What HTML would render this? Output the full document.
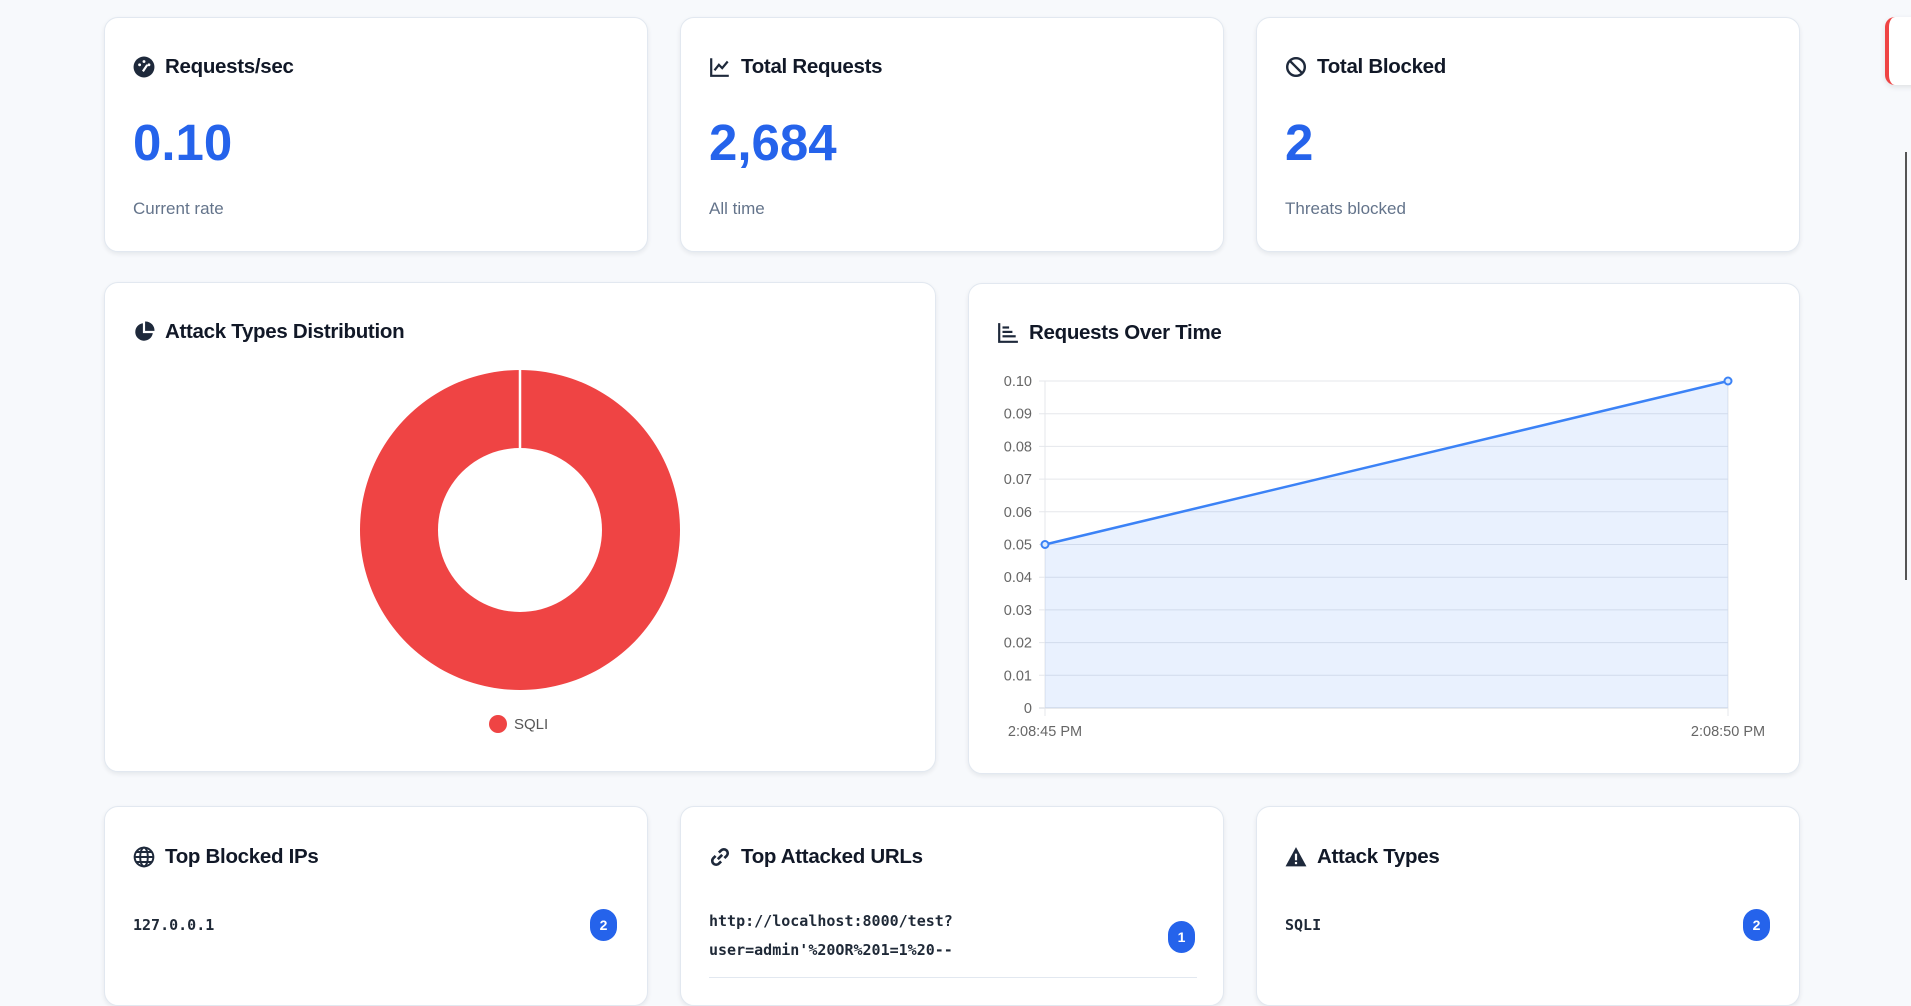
<!DOCTYPE html>
<html><head><meta charset="utf-8"><style>
*{box-sizing:border-box;margin:0;padding:0}
body{width:1911px;height:982px;background:#f7f9fc;font-family:"Liberation Sans","DejaVu Sans",sans-serif;position:relative;overflow:hidden;color:#1e293b}
.card{position:absolute;background:#fff;border:1px solid #e2e8f0;border-radius:14px;box-shadow:0 2px 5px rgba(15,23,42,0.08)}
.title{position:absolute;font-size:20.5px;font-weight:bold;color:#111827;display:flex;align-items:center;gap:10px;letter-spacing:-0.3px}
.title svg{width:22px;height:22px}
.big{position:absolute;font-size:51px;font-weight:bold;color:#2563eb}
.sub{position:absolute;font-size:17px;color:#64748b}
.mono{position:absolute;font-family:"DejaVu Sans Mono","Liberation Mono",monospace;font-weight:bold;font-size:15px;color:#1f2937;line-height:29px}
.badge{position:absolute;width:27px;height:32px;border-radius:14px;background:#2563eb;color:#fff;font-size:14px;font-weight:bold;display:flex;align-items:center;justify-content:center}
</style></head><body>

<div class="card" style="left:104px;top:17px;width:544px;height:235px">
 <div class="title" style="left:28px;top:37px"><svg viewBox="0 0 20 20"><circle cx="10" cy="10" r="9.5" fill="#1e293b"/><circle cx="6" cy="8" r="1.3" fill="#fff"/><circle cx="10" cy="5" r="1.3" fill="#fff"/><circle cx="14.5" cy="8" r="1.3" fill="#fff"/><path d="M9 14 L13 8" stroke="#fff" stroke-width="2"/></svg>Requests/sec</div>
 <div class="big" style="left:28px;top:95px">0.10</div>
 <div class="sub" style="left:28px;top:181px">Current rate</div>
</div>
<div class="card" style="left:680px;top:17px;width:544px;height:235px">
 <div class="title" style="left:28px;top:37px"><svg viewBox="0 0 20 20" fill="none" stroke="#1e293b" stroke-width="2"><path d="M2 2 V18 H18"/><path d="M5 13 L9 8 L12 11 L17 5"/></svg>Total Requests</div>
 <div class="big" style="left:28px;top:95px">2,684</div>
 <div class="sub" style="left:28px;top:181px">All time</div>
</div>
<div class="card" style="left:1256px;top:17px;width:544px;height:235px">
 <div class="title" style="left:28px;top:37px"><svg viewBox="0 0 20 20" fill="none" stroke="#1e293b" stroke-width="2.2"><circle cx="10" cy="10" r="8"/><path d="M4.5 4.5 L15.5 15.5"/></svg>Total Blocked</div>
 <div class="big" style="left:28px;top:95px">2</div>
 <div class="sub" style="left:28px;top:181px">Threats blocked</div>
</div>

<div class="card" style="left:104px;top:282px;width:832px;height:490px">
 <div class="title" style="left:28px;top:37px"><svg viewBox="0 0 20 20"><path d="M9 2 A8 8 0 1 0 18 11 H9 Z" fill="#1e293b"/><path d="M11 0.5 A8 8 0 0 1 19.5 9 H11 Z" fill="#1e293b"/></svg>Attack Types Distribution</div>
 <svg id="donut" style="position:absolute;left:0;top:0" width="832" height="490"></svg>
</div>

<div class="card" style="left:968px;top:283px;width:832px;height:491px">
 <div class="title" style="left:28px;top:37px"><svg viewBox="0 0 20 20" fill="#1e293b"><path d="M1 1 H3 V17 H19 V19 H1 Z"/><rect x="5" y="4" width="6" height="2"/><rect x="5" y="8" width="9" height="2"/><rect x="5" y="12" width="12" height="2"/></svg>Requests Over Time</div>
</div>
<svg id="line" style="position:absolute;left:0;top:0" width="1911" height="982"></svg>

<div class="card" style="left:104px;top:806px;width:544px;height:200px">
 <div class="title" style="left:28px;top:38px"><svg viewBox="0 0 20 20" fill="none" stroke="#1e293b" stroke-width="1.8"><circle cx="10" cy="10" r="8.5"/><ellipse cx="10" cy="10" rx="3.5" ry="8.5"/><path d="M1.5 10 H18.5 M3 5.5 H17 M3 14.5 H17"/></svg>Top Blocked IPs</div>
 <div class="mono" style="left:28px;top:104px">127.0.0.1</div>
 <div class="badge" style="left:485px;top:102px">2</div>
</div>
<div class="card" style="left:680px;top:806px;width:544px;height:200px">
 <div class="title" style="left:28px;top:38px"><svg viewBox="0 0 20 20" fill="none" stroke="#1e293b" stroke-width="2.4"><path d="M8 12 L12 8"/><path d="M9 6 L11 4 A3.5 3.5 0 0 1 16 9 L14 11"/><path d="M11 14 L9 16 A3.5 3.5 0 0 1 4 11 L6 9"/></svg>Top Attacked URLs</div>
 <div class="mono" style="left:28px;top:100px">http://localhost:8000/test?<br>user=admin'%20OR%201=1%20--</div>
 <div class="badge" style="left:487px;top:114px">1</div>
 <div style="position:absolute;left:28px;top:170px;width:488px;height:1px;background:#e2e8f0"></div>
</div>
<div class="card" style="left:1256px;top:806px;width:544px;height:200px">
 <div class="title" style="left:28px;top:38px"><svg viewBox="0 0 20 20"><path d="M10 1 L19.5 18.5 H0.5 Z" fill="#1e293b"/><rect x="9" y="7" width="2" height="6" fill="#fff"/><rect x="9" y="14.5" width="2" height="2" fill="#fff"/></svg>Attack Types</div>
 <div class="mono" style="left:28px;top:104px">SQLI</div>
 <div class="badge" style="left:486px;top:102px">2</div>
</div>

<div style="position:absolute;left:1885px;top:17px;width:40px;height:68px;background:#fff;border-left:4px solid #ef4444;border-radius:10px;box-shadow:0 2px 6px rgba(0,0,0,0.1)"></div>
<div style="position:absolute;left:1905px;top:152px;width:2px;height:428px;background:#555"></div>

<script>
// Donut data
const donutLabels = ["SQLI"];
const donutValues = [2];
const donutColors = ["#ef4444"];
(function(){
 const s=document.getElementById('donut'),NS='http://www.w3.org/2000/svg';
 const cx=415,cy=247,R=160,r=82;
 const total=donutValues.reduce((a,b)=>a+b,0);
 let a0=-Math.PI/2;
 donutValues.forEach((v,i)=>{
  const frac=v/total;
  let el;
  if(frac>=0.9999){
   el=document.createElementNS(NS,'path');
   el.setAttribute('d',`M${cx},${cy-R}A${R},${R} 0 1 1 ${cx-0.01},${cy-R}L${cx-0.01},${cy-r}A${r},${r} 0 1 0 ${cx},${cy-r}Z`);
  } else {
   const a1=a0+frac*2*Math.PI,lg=frac>0.5?1:0;
   const p=(rad,a)=>[cx+rad*Math.cos(a),cy+rad*Math.sin(a)];
   const [x1,y1]=p(R,a0),[x2,y2]=p(R,a1),[x3,y3]=p(r,a1),[x4,y4]=p(r,a0);
   el=document.createElementNS(NS,'path');
   el.setAttribute('d',`M${x1},${y1}A${R},${R} 0 ${lg} 1 ${x2},${y2}L${x3},${y3}A${r},${r} 0 ${lg} 0 ${x4},${y4}Z`);
   a0=a1;
  }
  el.setAttribute('fill',donutColors[i]);
  
  
  s.appendChild(el);
 });
 const sep=document.createElementNS(NS,'line');
 sep.setAttribute('x1',cx);sep.setAttribute('x2',cx);sep.setAttribute('y1',cy-R-1);sep.setAttribute('y2',cy-r+1);
 sep.setAttribute('stroke','#fff');sep.setAttribute('stroke-width','2.5');
 
 
 s.appendChild(sep);
 donutLabels.forEach((l,i)=>{
  const c=document.createElementNS(NS,'circle');
  c.setAttribute('cx',393);c.setAttribute('cy',441);c.setAttribute('r',9);c.setAttribute('fill',donutColors[i]);
  
  
  s.appendChild(c);
  const t=document.createElementNS(NS,'text');
  t.setAttribute('x',409);t.setAttribute('y',446);t.setAttribute('font-size','15');t.setAttribute('fill','#555');
  t.textContent=l;
  
  
  s.appendChild(t);
 });
})();

// Line chart data
const timeLabels = ["2:08:45 PM","2:08:50 PM"];
const requestRates = [0.05,0.10];
const yTicks = [0,0.01,0.02,0.03,0.04,0.05,0.06,0.07,0.08,0.09,0.10];
const yTickLabels = ["0","0.01","0.02","0.03","0.04","0.05","0.06","0.07","0.08","0.09","0.10"];
(function(){
 const s=document.getElementById('line'),NS='http://www.w3.org/2000/svg';
 const L=1045,Rt=1728,T=381,B=708,ymax=0.10;
 const X=i=>L+(Rt-L)*i/(timeLabels.length-1);
 const Y=v=>B-(B-T)*v/ymax;
 const mk=(tag,at,name)=>{const e=document.createElementNS(NS,tag);for(const k in at)e.setAttribute(k,at[k]);s.appendChild(e);return e;};
 yTicks.forEach((v,i)=>{
  mk('line',{x1:L-6,x2:Rt,y1:Y(v),y2:Y(v),stroke:i===0?'#d1d5db':'#e5e7eb','stroke-width':1},'y-gridline');
  const t=mk('text',{x:L-13,y:Y(v)+5,'text-anchor':'end','font-size':'14.5',fill:'#666'},'y-tick-label');t.textContent=yTickLabels[i];
 });
 timeLabels.forEach((l,i)=>{
  mk('line',{x1:X(i),x2:X(i),y1:T,y2:B+8,stroke:'#e5e7eb','stroke-width':1},'x-gridline');
  const t=mk('text',{x:X(i),y:B+28,'text-anchor':'middle','font-size':'14.5',fill:'#666'},'x-tick-label');t.textContent=l;
 });
 let d=requestRates.map((v,i)=>(i?'L':'M')+X(i)+','+Y(v)).join('');
 mk('path',{d:d+`L${X(requestRates.length-1)},${B}L${X(0)},${B}Z`,fill:'rgba(59,130,246,0.11)'},'area-fill');
 mk('path',{d:d,fill:'none',stroke:'#3b82f6','stroke-width':2.5},'requests-line');
 requestRates.forEach((v,i)=>mk('circle',{cx:X(i),cy:Y(v),r:3.5,fill:'#dbeafe',stroke:'#3b82f6','stroke-width':2},'data-point'));
})();
</script>
</body></html>
